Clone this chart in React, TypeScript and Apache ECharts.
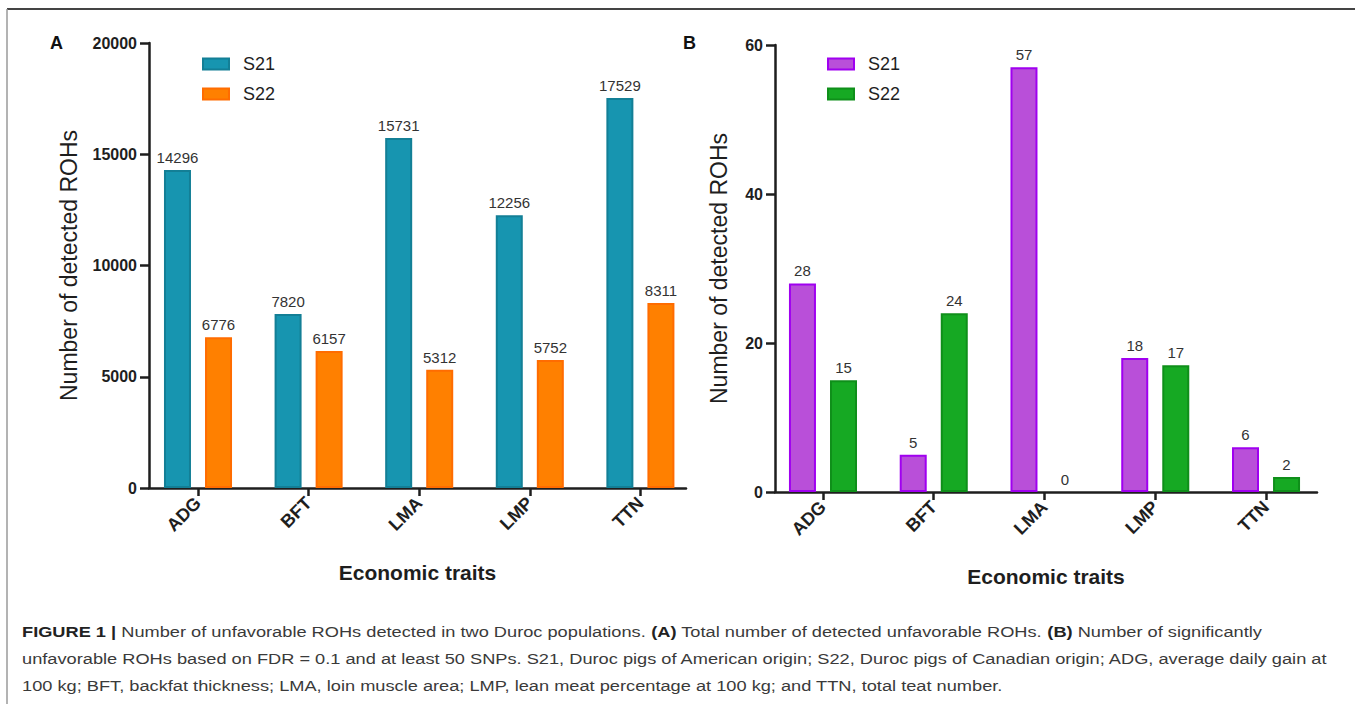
import React, { useEffect, useRef } from "react";
import * as echarts from "echarts";

const categories = ["ADG", "BFT", "LMA", "LMP", "TTN"];
const totalS21 = [14296, 7820, 15731, 12256, 17529];
const totalS22 = [6776, 6157, 5312, 5752, 8311];
const sigS21 = [28, 5, 57, 18, 6];
const sigS22 = [15, 24, 0, 17, 2];
const seriesNames = ["S21", "S22"];
const yMaxA = 20000;
const yStepA = 5000;
const yMaxB = 60;
const yStepB = 20;
const yTitle = "Number of detected ROHs";
const xTitle = "Economic traits";
const captionLines = [
  "{b|FIGURE 1 |} Number of unfavorable ROHs detected in two Duroc populations. {b|(A)} Total number of detected unfavorable ROHs. {b|(B)} Number of significantly",
  "unfavorable ROHs based on FDR = 0.1 and at least 50 SNPs. S21, Duroc pigs of American origin; S22, Duroc pigs of Canadian origin; ADG, average daily gain at",
  "100 kg; BFT, backfat thickness; LMA, loin muscle area; LMP, lean meat percentage at 100 kg; and TTN, total teat number.",
];

const FONT = "Liberation Sans, Arial, Helvetica, sans-serif";
const AXIS = "#1e1e1e";

export default function App() {
  const ref = useRef<HTMLDivElement>(null);
  useEffect(() => {
    if (!ref.current) return;
    const chart = echarts.init(ref.current, undefined, { renderer: "svg" });

    const barGrid = (left: number, width: number, top: number, height: number) => ({
      left, width, top, height, containLabel: false,
    });

    const catAxis = (gridIndex: number) => ({
      type: "category",
      gridIndex,
      data: categories,
      axisLine: { show: false },
      axisTick: { show: true, alignWithLabel: true, length: 8, lineStyle: { color: AXIS, width: 2.5 } },
      axisLabel: {
        rotate: 45, margin: 12, color: AXIS, fontSize: 18, fontWeight: "bold", fontFamily: FONT,
      },
      splitLine: { show: false },
    });

    const lineXAxis = (gridIndex: number) => ({
      type: "value",
      gridIndex,
      min: 0,
      max: 1,
      axisLine: { show: true, onZero: false, lineStyle: { color: AXIS, width: 2.5 } },
      axisTick: { show: false },
      axisLabel: { show: false },
      splitLine: { show: false },
      name: xTitle,
      nameLocation: "middle",
      nameGap: 74,
      nameTextStyle: { fontSize: 21, fontWeight: "bold", color: AXIS, fontFamily: FONT },
    });

    const hiddenY = (gridIndex: number, max: number, step: number) => ({
      type: "value", gridIndex, min: 0, max, interval: step, show: false,
      splitLine: { show: false },
    });

    const shownY = (gridIndex: number, max: number, step: number, gap: number) => ({
      type: "value",
      gridIndex,
      min: 0,
      max,
      interval: step,
      axisLine: { show: true, onZero: false, lineStyle: { color: AXIS, width: 2.5 } },
      axisTick: { show: true, length: 9, lineStyle: { color: AXIS, width: 2.5 } },
      axisLabel: {
        margin: 12, color: AXIS, fontSize: 16, fontWeight: "bold", fontFamily: FONT,
        formatter: (v: number) => String(v),
      },
      splitLine: { show: false },
      name: yTitle,
      nameLocation: "middle",
      nameGap: gap,
      nameTextStyle: { fontSize: 23, color: AXIS, fontFamily: FONT },
    });

    const label = {
      show: true, position: "top", distance: 5, color: "#333", fontSize: 15, fontFamily: FONT,
      formatter: (p: any) => String(p.value),
    };

    const bar = (name: string, data: number[], idx: number, fill: string, border: string) => ({
      type: "bar",
      name,
      xAxisIndex: idx,
      yAxisIndex: idx,
      data: data.map((v) => (v === 0 ? { value: v, itemStyle: { borderWidth: 0 } } : v)),
      barWidth: 27,
      barGap: "52%",
      itemStyle: { color: fill, borderColor: border, borderWidth: 2 },
      label,
    });

    const legend = (left: number, names: string[]) => ({
      orient: "vertical",
      left,
      top: 50,
      icon: "rect",
      itemWidth: 26,
      itemHeight: 11,
      itemGap: 12,
      data: names,
      formatter: (n: string) => n.slice(2),
      textStyle: { fontSize: 18, color: AXIS, fontFamily: FONT, padding: [0, 0, 0, 9] },
      selectedMode: false,
    });

    const captionGraphics = captionLines.map((t, i) => ({
      type: "text",
      x: 22,
      y: 632 + i * 27,
      scaleX: 1.176,
      style: {
        text: t,
        font: `15.5px ${FONT}`,
        fill: "#3a3a3a",
        verticalAlign: "middle",
        rich: { b: { fontWeight: "bold", fontSize: 15.5, fontFamily: FONT, fill: "#222" } },
      },
    }));

    chart.setOption({
      animation: false,
      backgroundColor: "#fff",
      grid: [
        barGrid(142.7, 553, 43, 445),
        barGrid(149, 537, 43, 445),
        barGrid(767.6, 553.8, 45, 447),
        barGrid(775, 542, 45, 447),
      ],
      xAxis: [catAxis(0), lineXAxis(1), catAxis(2), lineXAxis(3)],
      yAxis: [
        hiddenY(0, yMaxA, yStepA),
        shownY(1, yMaxA, yStepA, 69),
        hiddenY(2, yMaxB, yStepB),
        shownY(3, yMaxB, yStepB, 45),
      ],
      legend: [
        legend(197, ["A-" + seriesNames[0], "A-" + seriesNames[1]]),
        legend(822, ["B-" + seriesNames[0], "B-" + seriesNames[1]]),
      ],
      series: [
        bar("A-" + seriesNames[0], totalS21, 0, "#1795b0", "#137f96"),
        bar("A-" + seriesNames[1], totalS22, 0, "#ff8000", "#ff6c00"),
        bar("B-" + seriesNames[0], sigS21, 2, "#b94fd9", "#a000f0"),
        bar("B-" + seriesNames[1], sigS22, 2, "#16a923", "#0f8f1a"),
      ],
      graphic: [
        { type: "line", shape: { x1: 7, y1: 9, x2: 1355, y2: 9 }, style: { stroke: "#444", lineWidth: 2 } },
        { type: "line", shape: { x1: 7, y1: 9, x2: 7, y2: 704 }, style: { stroke: "#9a9a9a", lineWidth: 1.5 } },
        { type: "text", left: 50, top: 34, style: { text: "A", font: `bold 18px ${FONT}`, fill: "#111" } },
        { type: "text", left: 683, top: 34, style: { text: "B", font: `bold 18px ${FONT}`, fill: "#111" } },
        ...captionGraphics,
      ],
    });
    return () => chart.dispose();
  }, []);
  return (
    <div
      ref={ref}
      style={{ position: "absolute", left: 0, top: 0, width: 1355, height: 704, background: "#fff" }}
    />
  );
}
